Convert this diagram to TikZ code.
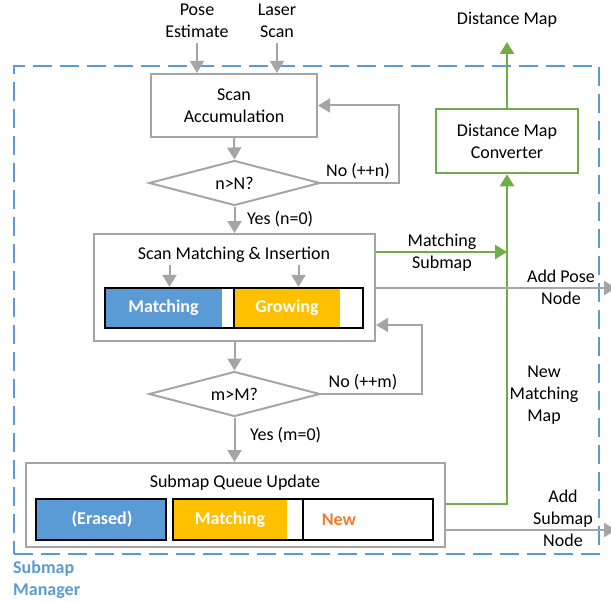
\documentclass[tikz,border=0pt]{standalone}
\usepackage{fontspec}
\setmainfont{Carlito}
\usetikzlibrary{arrows.meta,shapes.geometric}
\definecolor{grayc}{HTML}{A5A5A5}
\definecolor{greenc}{HTML}{70AD47}
\definecolor{bluec}{HTML}{5B9BD5}
\definecolor{yellowc}{HTML}{FFC000}
\definecolor{orangec}{HTML}{ED7D31}
\begin{document}
\begin{tikzpicture}[x=1pt,y=-1pt,font=\fontsize{18}{22}\selectfont,
  txt/.style={align=center,inner sep=0pt},
  gline/.style={draw=grayc,line width=2pt},
  garr/.style={gline,-{Triangle[width=14pt,length=12pt]}},
  grline/.style={draw=greenc,line width=2.5pt},
  grarr/.style={grline,-{Triangle[width=14pt,length=12pt]}},
  gbox/.style={gline,rectangle,fill=white,inner sep=0pt,align=center},
  dia/.style={gline,diamond,fill=white,inner sep=0pt,minimum width=171pt,minimum height=45pt,aspect=3.8},
  barbox/.style={draw=black,line width=2.2pt,rectangle,inner sep=0pt,minimum height=40pt},
  bartxt/.style={txt,text=white,font=\fontsize{18}{22}\selectfont\bfseries}]
\useasboundingbox (0,0) rectangle (611,602);

% manager container
\node[draw=bluec,line width=2.5pt,dash pattern=on 19pt off 8pt,rectangle,inner sep=0pt,
  minimum width=585pt,minimum height=488pt] (mgr) at (306.5,310) {};
\node[txt,anchor=west,align=left,text=bluec,font=\fontsize{18}{22}\selectfont\bfseries] (mgrlbl) at (13,579.5) {Submap\\Manager};

% inputs
\node[txt] (pose) at (197,21) {Pose\\Estimate};
\node[txt] (laser) at (277,21) {Laser\\Scan};

% scan accumulation
\node[gbox,minimum width=166pt,minimum height=63pt] (acc) at (234,105.5) {Scan\\Accumulation};
\draw[garr] ([yshift=-5pt]pose.south) -- (pose.south |- acc.north);
\draw[garr] ([yshift=-5pt]laser.south) -- (laser.south |- acc.north);

% n>N?
\node[dia] (d1) at (234.5,183) {n>N?};
\draw[garr] (d1.east) -- (399,183) -- (399,105.5) -- (acc.east);
\node[txt] (nolbl1) at (358,171) {No (++n)};

% scan matching & insertion
\node[gbox,minimum width=281pt,minimum height=107pt] (sm) at (234.5,287.5) {};
\node[txt] (smt) at (234,255) {Scan Matching \& Insertion};
\draw[garr] (acc.south) -- (d1.north);
\draw[garr] (d1.south) -- (d1.south |- sm.north);
\node[txt,anchor=west] (yes1) at (247,219) {Yes (n=0)};

\fill[bluec] (105,288) rectangle (222,328);
\fill[yellowc] (234,288) rectangle (340,328);
\node[barbox,minimum width=129pt] (bm) at (169.5,308) {};
\node[barbox,minimum width=129pt] (bg) at (298.5,308) {};
\node[bartxt] (bmt) at (163.5,308) {Matching};
\node[bartxt] (bgt) at (287,308) {Growing};
\draw[garr] ([yshift=22pt]bm.north) -- (bm.north);
\draw[garr] ([yshift=22pt]bg.north) -- (bg.north);

% m>M?
\node[dia] (d2) at (234.5,394) {m>M?};
\draw[garr] (sm.south) -- (d2.north);
\draw[garr] (d2.east) -- (422,394) -- (422,325) -- (sm.east |- 0,325);
\node[txt] (nolbl2) at (363,382) {No (++m)};

% submap queue update
\node[gbox,minimum width=419pt,minimum height=84pt] (sq) at (235.5,505) {};
\node[txt] (sqt) at (235,483) {Submap Queue Update};
\draw[garr] (d2.south) -- (d2.south |- sq.north);
\node[txt,anchor=west] (yes2) at (250,435) {Yes (m=0)};

\fill[bluec] (36,499) rectangle (166,540);
\fill[yellowc] (173,499) rectangle (287,540);
\node[barbox,minimum width=130pt,minimum height=41pt] (be) at (101,519.5) {};
\node[barbox,minimum width=130pt,minimum height=41pt] (bq) at (238,519.5) {};
\node[barbox,minimum width=130pt,minimum height=41pt] (bn) at (368,519.5) {};
\node[bartxt] (bet) at (102,519.5) {(Erased)};
\node[bartxt] (bqt) at (230,519.5) {Matching};
\node[bartxt,text=orangec] (bnt) at (339,519.5) {New};

% distance map converter
\node[gbox,draw=greenc,line width=2.5pt,minimum width=142pt,minimum height=64pt] (dmc) at (507,141) {Distance Map\\Converter};
\node[txt] (dm) at (507,20) {Distance Map};
\draw[grarr] (dmc.north) -- (dmc.north |- 0,42);
\draw[grarr] (sq.east |- 0,504) -| (dmc.south);
\draw[grarr] (sm.east |- 0,252) -- (dmc.south |- 0,252);
\node[txt] (mslbl) at (442,252.5) {Matching\\Submap};
\node[txt] (nmlbl) at (544,395) {New\\Matching\\Map};

% outputs
\draw[garr] (sm.east |- 0,288) -- (616,288);
\node[txt] (aplbl) at (561,287.5) {Add Pose\\Node};
\draw[garr] (sq.east |- 0,530) -- (616,530);
\node[txt] (aslbl) at (563,518) {Add\\Submap\\Node};
\end{tikzpicture}
\end{document}
